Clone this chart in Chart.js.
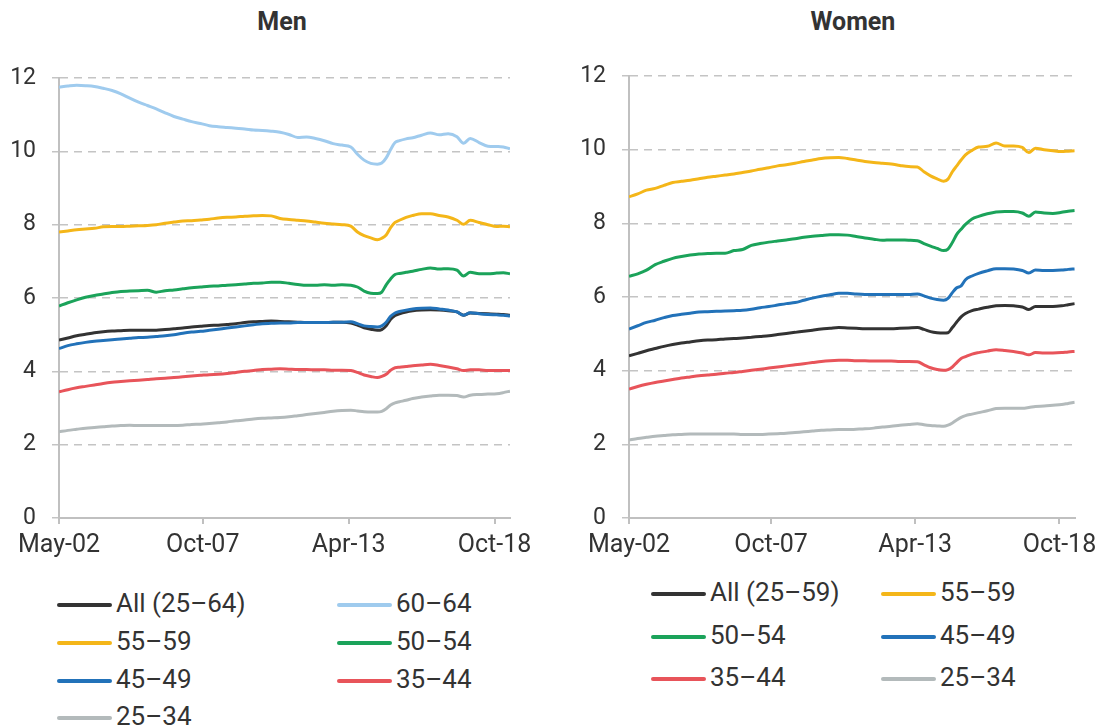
<!DOCTYPE html>
<html>
<head>
<meta charset="utf-8">
<script src="https://cdn.jsdelivr.net/npm/chart.js@4.4.0/dist/chart.umd.min.js"></script>
<style>
  body { margin: 0; width: 1104px; height: 727px; background: #fff; position: relative; overflow: hidden;
         font-family: Roboto, "Liberation Sans", sans-serif; color: #333; }
  .title { position: absolute; top: 7px; width: 200px; text-align: center; font-weight: bold; font-size: 25px; line-height: 30px; }
  canvas { position: absolute; top: 40px; }
  .leg { position: absolute; display: flex; align-items: center; height: 30px; font-size: 26px; line-height: 30px; white-space: nowrap; }
  .leg i { display: inline-block; width: 55px; height: 4px; border-radius: 2px; margin-right: 4px; position: relative; top: 2px; }
</style>
</head>
<body>
<div class="title" style="left:182px">Men</div>
<div class="title" style="left:753px">Women</div>
<canvas id="men-chart" width="560" height="530" style="left:0"></canvas>
<canvas id="women-chart" width="534" height="530" style="left:570px"></canvas>
<div id="men-legend"></div>
<div id="women-legend"></div>
<script>
// mesi dal maggio 2002 (0 = May-02)
const months = [
  0, 4, 8, 12, 16, 20, 24, 28, 32, 36, 40, 44,
  48, 52, 56, 60, 64, 68, 72, 76, 80, 84, 88, 92,
  96, 100, 104, 108, 112, 116, 120, 124, 128, 132,
  135, 138, 141, 144, 146, 148, 150, 152, 154, 157, 160, 164,
  168, 172, 176, 180, 183, 186, 190, 194, 198, 201, 204
];
const tickMonths = [0, 65, 131, 197];
const tickLabels = ['May-02', 'Oct-07', 'Apr-13', 'Oct-18'];

// Men
const menAll = [
  4.85, 4.91, 4.97, 5.01, 5.05, 5.08, 5.10, 5.11, 5.12, 5.12, 5.12, 5.12,
  5.14, 5.16, 5.18, 5.21, 5.23, 5.25, 5.26, 5.28, 5.30, 5.33, 5.35, 5.36,
  5.37, 5.36, 5.35, 5.34, 5.33, 5.33, 5.33, 5.34, 5.34, 5.32,
  5.26, 5.19, 5.15, 5.12, 5.14, 5.24, 5.42, 5.52, 5.57, 5.62, 5.65, 5.67,
  5.68, 5.67, 5.65, 5.62, 5.53, 5.59, 5.58, 5.57, 5.56, 5.55, 5.53
];
const men6064 = [
  11.75, 11.78, 11.80, 11.79, 11.77, 11.72, 11.66, 11.57, 11.45, 11.34, 11.25, 11.16,
  11.05, 10.95, 10.88, 10.81, 10.76, 10.70, 10.67, 10.65, 10.63, 10.61, 10.58, 10.57,
  10.55, 10.52, 10.46, 10.38, 10.39, 10.35, 10.29, 10.21, 10.17, 10.12,
  9.92, 9.76, 9.67, 9.65, 9.68, 9.82, 10.05, 10.24, 10.29, 10.34, 10.37, 10.44,
  10.50, 10.45, 10.48, 10.40, 10.22, 10.35, 10.24, 10.14, 10.13, 10.12, 10.07
];
const men5559 = [
  7.80, 7.83, 7.86, 7.88, 7.90, 7.94, 7.95, 7.95, 7.96, 7.97, 7.98, 8.00,
  8.04, 8.07, 8.10, 8.11, 8.13, 8.15, 8.18, 8.20, 8.21, 8.23, 8.24, 8.25,
  8.24, 8.17, 8.14, 8.12, 8.10, 8.07, 8.04, 8.02, 8.00, 7.96,
  7.80, 7.70, 7.64, 7.59, 7.63, 7.72, 7.92, 8.06, 8.12, 8.20, 8.25, 8.30,
  8.30, 8.25, 8.21, 8.12, 8.01, 8.12, 8.06, 8.00, 7.95, 7.96, 7.94
];
const men5054 = [
  5.78, 5.87, 5.95, 6.02, 6.07, 6.11, 6.15, 6.18, 6.19, 6.20, 6.21, 6.16,
  6.20, 6.22, 6.25, 6.28, 6.30, 6.32, 6.33, 6.35, 6.36, 6.38, 6.40, 6.41,
  6.43, 6.43, 6.40, 6.37, 6.35, 6.35, 6.36, 6.35, 6.36, 6.35,
  6.30, 6.19, 6.13, 6.12, 6.16, 6.36, 6.52, 6.64, 6.67, 6.70, 6.73, 6.78,
  6.82, 6.79, 6.80, 6.76, 6.60, 6.70, 6.66, 6.66, 6.68, 6.69, 6.66
];
const men4549 = [
  4.62, 4.70, 4.75, 4.79, 4.82, 4.84, 4.86, 4.88, 4.90, 4.92, 4.93, 4.95,
  4.97, 5.00, 5.04, 5.07, 5.09, 5.12, 5.15, 5.18, 5.21, 5.24, 5.27, 5.30,
  5.31, 5.32, 5.32, 5.33, 5.33, 5.33, 5.33, 5.34, 5.34, 5.35,
  5.30, 5.24, 5.22, 5.21, 5.24, 5.34, 5.50, 5.59, 5.63, 5.67, 5.70, 5.72,
  5.73, 5.70, 5.67, 5.62, 5.53, 5.60, 5.57, 5.55, 5.54, 5.53, 5.51
];
const men3544 = [
  3.44, 3.50, 3.55, 3.59, 3.63, 3.67, 3.70, 3.72, 3.74, 3.76, 3.78, 3.80,
  3.81, 3.83, 3.85, 3.87, 3.89, 3.91, 3.92, 3.94, 3.97, 4.00, 4.02, 4.05,
  4.06, 4.07, 4.06, 4.05, 4.05, 4.04, 4.04, 4.03, 4.03, 4.02,
  3.97, 3.90, 3.86, 3.83, 3.86, 3.92, 4.03, 4.10, 4.11, 4.13, 4.15, 4.17,
  4.19, 4.16, 4.12, 4.07, 4.02, 4.04, 4.04, 4.02, 4.02, 4.02, 4.02
];
const men2534 = [
  2.35, 2.39, 2.42, 2.45, 2.47, 2.49, 2.51, 2.52, 2.53, 2.52, 2.52, 2.52,
  2.52, 2.52, 2.53, 2.55, 2.56, 2.58, 2.60, 2.62, 2.65, 2.67, 2.70, 2.72,
  2.73, 2.74, 2.76, 2.79, 2.82, 2.85, 2.88, 2.91, 2.93, 2.94,
  2.92, 2.90, 2.89, 2.89, 2.91, 2.98, 3.08, 3.14, 3.17, 3.21, 3.26, 3.30,
  3.33, 3.35, 3.35, 3.34, 3.30, 3.35, 3.37, 3.38, 3.39, 3.42, 3.46
];

// Women
const womenAll = [
  4.40, 4.47, 4.54, 4.60, 4.66, 4.71, 4.75, 4.78, 4.81, 4.83, 4.84, 4.86,
  4.87, 4.89, 4.91, 4.93, 4.95, 4.98, 5.01, 5.04, 5.07, 5.10, 5.13, 5.15,
  5.17, 5.16, 5.15, 5.14, 5.14, 5.14, 5.14, 5.15, 5.16, 5.17,
  5.12, 5.06, 5.03, 5.02, 5.03, 5.17, 5.32, 5.46, 5.55, 5.63, 5.67, 5.72,
  5.76, 5.77, 5.76, 5.73, 5.66, 5.74, 5.74, 5.74, 5.76, 5.79, 5.82
];
const women5559 = [
  8.72, 8.80, 8.90, 8.95, 9.03, 9.11, 9.14, 9.17, 9.21, 9.25, 9.28, 9.31,
  9.34, 9.38, 9.42, 9.47, 9.51, 9.56, 9.59, 9.63, 9.68, 9.72, 9.76, 9.78,
  9.79, 9.76, 9.72, 9.68, 9.65, 9.63, 9.61, 9.57, 9.54, 9.53,
  9.40, 9.29, 9.21, 9.14, 9.20, 9.40, 9.56, 9.72, 9.86, 9.98, 10.07, 10.09,
  10.18, 10.10, 10.10, 10.06, 9.92, 10.04, 10.00, 9.97, 9.95, 9.96, 9.97
];
const women5054 = [
  6.56, 6.63, 6.73, 6.88, 6.97, 7.05, 7.10, 7.14, 7.17, 7.18, 7.19, 7.19,
  7.26, 7.29, 7.40, 7.45, 7.49, 7.52, 7.55, 7.58, 7.62, 7.65, 7.67, 7.69,
  7.69, 7.68, 7.64, 7.60, 7.57, 7.54, 7.55, 7.55, 7.54, 7.53,
  7.45, 7.38, 7.32, 7.26, 7.30, 7.48, 7.70, 7.84, 7.97, 8.12, 8.19, 8.26,
  8.31, 8.32, 8.32, 8.28, 8.19, 8.31, 8.28, 8.27, 8.30, 8.33, 8.35
];
const women4549 = [
  5.13, 5.22, 5.31, 5.37, 5.44, 5.50, 5.53, 5.56, 5.59, 5.60, 5.61, 5.62,
  5.63, 5.64, 5.67, 5.71, 5.74, 5.78, 5.82, 5.85, 5.91, 5.97, 6.02, 6.06,
  6.10, 6.10, 6.08, 6.07, 6.07, 6.07, 6.07, 6.07, 6.07, 6.08,
  6.03, 5.97, 5.93, 5.91, 5.96, 6.12, 6.25, 6.30, 6.47, 6.57, 6.64, 6.71,
  6.77, 6.77, 6.76, 6.72, 6.65, 6.73, 6.72, 6.72, 6.73, 6.75, 6.76
];
const women3544 = [
  3.50, 3.57, 3.63, 3.68, 3.72, 3.76, 3.80, 3.83, 3.86, 3.88, 3.90, 3.93,
  3.95, 3.98, 4.01, 4.04, 4.07, 4.10, 4.13, 4.16, 4.19, 4.22, 4.25, 4.27,
  4.28, 4.28, 4.27, 4.27, 4.26, 4.26, 4.26, 4.25, 4.25, 4.24,
  4.16, 4.08, 4.03, 4.01, 4.03, 4.10, 4.22, 4.33, 4.38, 4.45, 4.49, 4.53,
  4.57, 4.55, 4.52, 4.48, 4.43, 4.49, 4.48, 4.48, 4.49, 4.51, 4.52
];
const women2534 = [
  2.12, 2.16, 2.19, 2.22, 2.24, 2.26, 2.27, 2.28, 2.28, 2.28, 2.28, 2.28,
  2.28, 2.27, 2.27, 2.27, 2.28, 2.29, 2.30, 2.32, 2.34, 2.36, 2.38, 2.39,
  2.40, 2.40, 2.41, 2.42, 2.44, 2.47, 2.49, 2.52, 2.54, 2.56,
  2.53, 2.51, 2.50, 2.49, 2.52, 2.58, 2.66, 2.73, 2.78, 2.82, 2.86, 2.91,
  2.97, 2.98, 2.98, 2.98, 3.00, 3.03, 3.04, 3.06, 3.08, 3.11, 3.14
];

const menNames = ['All (25–64)', '60–64', '55–59', '50–54', '45–49', '35–44', '25–34'];
const menSeries = [menAll, men6064, men5559, men5054, men4549, men3544, men2534];
const menColors = ['#333333', '#9fcbee', '#f4b619', '#1ba35a', '#2272b9', '#e8545a', '#b3babb'];

const womenNames = ['All (25–59)', '55–59', '50–54', '45–49', '35–44', '25–34'];
const womenSeries = [womenAll, women5559, women5054, women4549, women3544, women2534];
const womenColors = ['#333333', '#f4b619', '#1ba35a', '#2272b9', '#e8545a', '#b3babb'];

const FONT = 'Roboto, "Liberation Sans", sans-serif';

function makeChart(id, names, series, colors, padTop, padRight) {
  return new Chart(document.getElementById(id), {
    type: 'line',
    data: {
      datasets: names.map((n, i) => ({
        label: n,
        data: months.map((m, j) => ({ x: m, y: series[i][j] })),
        borderColor: colors[i],
        backgroundColor: colors[i],
        borderWidth: 3,
        pointRadius: 0,
        cubicInterpolationMode: 'monotone',
        order: n === '45–49' ? 0 : 1
      }))
    },
    options: {
      responsive: false,
      animation: false,
      layout: { padding: { top: padTop, right: padRight, left: 0, bottom: 0 } },
      plugins: { legend: { display: false }, tooltip: { enabled: false } },
      scales: {
        x: {
          type: 'linear',
          min: 0,
          max: 204,
          afterBuildTicks: s => { s.ticks = tickMonths.map(v => ({ value: v })); },
          afterFit: s => { s.height = 52; },
          grid: { drawOnChartArea: false, tickLength: 6, color: '#c0c0c0', lineWidth: 2 },
          border: { color: '#c0c0c0', width: 2 },
          ticks: {
            autoSkip: false, maxRotation: 0, padding: 7, color: '#333',
            font: { family: FONT, size: 25 },
            callback: (v, i) => tickLabels[i]
          }
        },
        y: {
          min: 0,
          max: 12,
          afterFit: s => { s.width = 59; },
          ticks: { stepSize: 2, padding: 16, color: '#333', font: { family: FONT, size: 23 } },
          grid: { color: '#c4c4c4', lineWidth: 1.5, tickLength: 7, tickBorderDash: [] },
          border: { color: '#c0c0c0', width: 2, dash: [8, 6] }
        }
      }
    }
  });
}

function makeLegend(id, names, colors, cols, rows) {
  const box = document.getElementById(id);
  names.forEach((n, i) => {
    const el = document.createElement('div');
    el.className = 'leg';
    el.style.left = cols[i % 2] + 'px';
    el.style.top = (rows[Math.floor(i / 2)] - 17) + 'px';
    el.innerHTML = '<i style="background:' + colors[i] + '"></i>' + n;
    box.appendChild(el);
  });
}

document.fonts.load('25px Roboto').then(() => document.fonts.load('bold 25px Roboto')).finally(() => {
  makeChart('men-chart', menNames, menSeries, menColors, 38, 50);
  makeChart('women-chart', womenNames, womenSeries, womenColors, 36, 24);
});

makeLegend('men-legend', menNames, menColors, [57, 337], [605, 643, 681, 718]);
makeLegend('women-legend', womenNames, womenColors, [651, 881], [594, 637, 679]);
</script>
</body>
</html>
